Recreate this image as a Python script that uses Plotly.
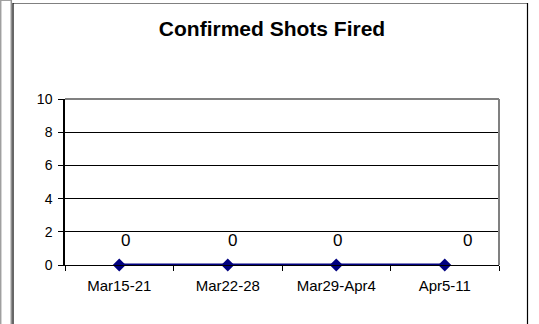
import plotly.graph_objects as go

# Weekly counts of confirmed shots fired
weeks = ["Mar15-21", "Mar22-28", "Mar29-Apr4", "Apr5-11"]
shots = [0, 0, 0, 0]
y_ticks = [0, 2, 4, 6, 8, 10]

# value-label nudges (pixels) as laid out on the sheet
label_dx = [6, 5, 1, 23]

W, H = 539, 324
ML, MR, MT, MB = 65, 40, 99, 59
PW, PH = W - ML - MR, H - MT - MB


def fx(px):
    return (px - ML) / PW


def fy(py):
    return (H - MB - py) / PH


FONT = "Liberation Sans, Arial, sans-serif"

fig = go.Figure()
fig.add_trace(go.Scatter(
    x=weeks, y=shots, mode="lines+markers",
    line=dict(color="#000080", width=3),
    marker=dict(symbol="diamond", size=10, color="#000080"),
    cliponaxis=False, hoverinfo="x+y", showlegend=False,
))

annotations = []
for w, v, dx in zip(weeks, shots, label_dx):
    annotations.append(dict(
        x=w, y=v, xref="x", yref="y", text=str(v), showarrow=False,
        xshift=dx, yshift=25, font=dict(family=FONT, size=17, color="black"),
    ))

shapes = [
    # plot-area frame (top and right)
    dict(type="line", xref="paper", yref="paper", x0=0, y0=1, x1=1, y1=1,
         line=dict(color="#808080", width=2)),
    dict(type="line", xref="paper", yref="paper", x0=1, y0=0, x1=1, y1=1,
         line=dict(color="#808080", width=2)),
    # chart-area border
    dict(type="line", xref="paper", yref="paper", x0=fx(13), y0=fy(3.5), x1=fx(527.5), y1=fy(3.5),
         line=dict(color="#808080", width=1)),
    dict(type="line", xref="paper", yref="paper", x0=fx(13), y0=fy(3), x1=fx(13), y1=fy(330),
         line=dict(color="#000000", width=1.2)),
    dict(type="line", xref="paper", yref="paper", x0=fx(11.3), y0=fy(0), x1=fx(11.3), y1=fy(330),
         line=dict(color="#909090", width=1.5)),
    dict(type="line", xref="paper", yref="paper", x0=fx(527.5), y0=fy(3), x1=fx(527.5), y1=fy(330),
         line=dict(color="#000000", width=1.2)),
    # sheet edge on the far left
    dict(type="line", xref="paper", yref="paper", x0=fx(0.7), y0=fy(0), x1=fx(0.7), y1=fy(330),
         line=dict(color="#a0a0a0", width=1.5)),
    dict(type="line", xref="paper", yref="paper", x0=fx(0), y0=fy(0.5), x1=fx(11), y1=fy(0.5),
         line=dict(color="#a0a0a0", width=1)),
]

fig.update_layout(
    width=W, height=H,
    margin=dict(l=ML, r=MR, t=MT, b=MB),
    paper_bgcolor="white", plot_bgcolor="white",
    font=dict(family=FONT, color="black"),
    title=dict(text="<b>Confirmed Shots Fired</b>", x=272 / W, xanchor="center",
               y=1 - 29 / H, yanchor="middle", yref="container",
               font=dict(family=FONT, size=21, color="black")),
    xaxis=dict(
        type="category", categoryorder="array", categoryarray=weeks,
        range=[-0.5, len(weeks) - 0.5], tickson="boundaries",
        ticks="outside", ticklen=5, tickcolor="black", tickwidth=1,
        ticklabelstandoff=7,
        showline=True, linecolor="black", linewidth=1.2,
        showgrid=False, zeroline=False,
        tickfont=dict(family=FONT, size=15, color="black"),
    ),
    yaxis=dict(
        range=[0, 10], tickvals=y_ticks, ticktext=[str(t) for t in y_ticks],
        ticks="outside", ticklen=5, tickcolor="black", tickwidth=1,
        ticklabelstandoff=3,
        showline=True, linecolor="black", linewidth=1.5,
        showgrid=True, gridcolor="black", gridwidth=1, zeroline=False,
        tickfont=dict(family=FONT, size=14, color="black"),
    ),
    annotations=annotations,
    shapes=shapes,
)

fig.write_html("out.html")
